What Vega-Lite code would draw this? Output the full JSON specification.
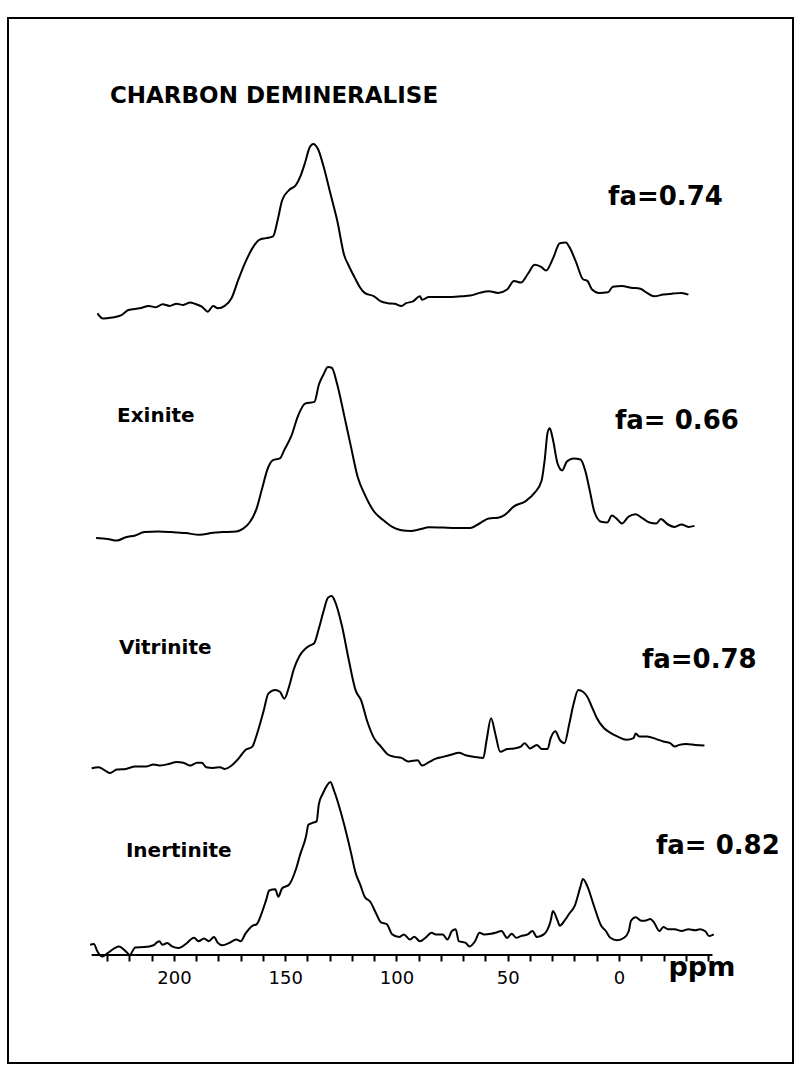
{
  "$schema": "https://vega.github.io/schema/vega-lite/v6.json",
  "width": 785,
  "height": 1045,
  "autosize": {"type": "none"},
  "padding": {"left": 8, "top": 18, "right": 7, "bottom": 8},
  "background": "white",
  "config": {"view": {"stroke": "black", "strokeWidth": 2}, "font": "DejaVu Sans"},
  "datasets": {
    "spectra": [
      {"s":"C","ppm":234.4,"i":6.6},{"s":"C","ppm":231.9,"i":1.4},{"s":"C","ppm":227.8,"i":2.5},{"s":"C","ppm":223.6,"i":4.9},{"s":"C","ppm":220.5,"i":10.0},{"s":"C","ppm":215.4,"i":11.7},{"s":"C","ppm":211.2,"i":14.1},{"s":"C","ppm":208.2,"i":12.7},{"s":"C","ppm":205.1,"i":15.8},{"s":"C","ppm":202.0,"i":14.1},{"s":"C","ppm":198.9,"i":16.2},{"s":"C","ppm":195.8,"i":15.1},{"s":"C","ppm":192.7,"i":17.5},{"s":"C","ppm":190.6,"i":16.2},{"s":"C","ppm":187.5,"i":13.4},{"s":"C","ppm":184.8,"i":8.3},{"s":"C","ppm":182.4,"i":14.1},{"s":"C","ppm":180.3,"i":11.7},{"s":"C","ppm":177.2,"i":14.1},{"s":"C","ppm":174.1,"i":22.0},{"s":"C","ppm":171.0,"i":40.8},{"s":"C","ppm":167.9,"i":57.9},{"s":"C","ppm":164.8,"i":71.6},{"s":"C","ppm":161.7,"i":80.2},{"s":"C","ppm":158.6,"i":81.9},{"s":"C","ppm":155.5,"i":83.6},{"s":"C","ppm":153.5,"i":99.0},{"s":"C","ppm":151.4,"i":119.6},{"s":"C","ppm":148.3,"i":129.9},{"s":"C","ppm":145.2,"i":135.0},{"s":"C","ppm":143.2,"i":143.6},{"s":"C","ppm":141.1,"i":157.3},{"s":"C","ppm":139.0,"i":172.7},{"s":"C","ppm":137.4,"i":176.1},{"s":"C","ppm":135.3,"i":171.0},{"s":"C","ppm":132.8,"i":153.8},{"s":"C","ppm":129.7,"i":126.4},{"s":"C","ppm":126.6,"i":99.0},{"s":"C","ppm":123.5,"i":64.8},{"s":"C","ppm":121.5,"i":54.5},{"s":"C","ppm":118.4,"i":40.8},{"s":"C","ppm":116.3,"i":32.3},{"s":"C","ppm":114.3,"i":27.1},{"s":"C","ppm":110.1,"i":23.7},{"s":"C","ppm":107.0,"i":18.6},{"s":"C","ppm":103.9,"i":16.8},{"s":"C","ppm":100.8,"i":16.2},{"s":"C","ppm":97.8,"i":14.1},{"s":"C","ppm":95.7,"i":16.8},{"s":"C","ppm":92.6,"i":18.6},{"s":"C","ppm":89.5,"i":23.7},{"s":"C","ppm":88.5,"i":20.3},{"s":"C","ppm":85.4,"i":23.0},{"s":"C","ppm":77.1,"i":23.0},{"s":"C","ppm":70.9,"i":23.7},{"s":"C","ppm":66.8,"i":24.4},{"s":"C","ppm":62.7,"i":27.1},{"s":"C","ppm":58.5,"i":28.8},{"s":"C","ppm":54.4,"i":27.1},{"s":"C","ppm":50.3,"i":30.5},{"s":"C","ppm":47.2,"i":39.1},{"s":"C","ppm":44.1,"i":37.4},{"s":"C","ppm":41.0,"i":46.0},{"s":"C","ppm":37.9,"i":55.2},{"s":"C","ppm":34.8,"i":52.8},{"s":"C","ppm":32.8,"i":49.4},{"s":"C","ppm":29.7,"i":61.4},{"s":"C","ppm":26.6,"i":76.8},{"s":"C","ppm":23.9,"i":77.5},{"s":"C","ppm":22.4,"i":73.4},{"s":"C","ppm":19.3,"i":57.9},{"s":"C","ppm":16.2,"i":40.8},{"s":"C","ppm":14.2,"i":39.1},{"s":"C","ppm":12.1,"i":30.5},{"s":"C","ppm":9.0,"i":27.1},{"s":"C","ppm":4.9,"i":27.8},{"s":"C","ppm":2.8,"i":33.3},{"s":"C","ppm":-1.3,"i":34.0},{"s":"C","ppm":-5.4,"i":32.3},{"s":"C","ppm":-9.6,"i":31.2},{"s":"C","ppm":-12.6,"i":27.1},{"s":"C","ppm":-15.7,"i":23.7},{"s":"C","ppm":-19.9,"i":25.4},{"s":"C","ppm":-24.0,"i":26.4},{"s":"C","ppm":-28.1,"i":27.1},{"s":"C","ppm":-31.2,"i":25.4},
      {"s":"E","ppm":235.0,"i":7.1},{"s":"E","ppm":229.8,"i":6.1},{"s":"E","ppm":225.7,"i":4.4},{"s":"E","ppm":221.6,"i":7.8},{"s":"E","ppm":217.4,"i":9.5},{"s":"E","ppm":213.3,"i":12.9},{"s":"E","ppm":207.1,"i":13.6},{"s":"E","ppm":200.9,"i":12.9},{"s":"E","ppm":194.7,"i":11.9},{"s":"E","ppm":188.5,"i":10.2},{"s":"E","ppm":182.4,"i":12.3},{"s":"E","ppm":178.2,"i":12.9},{"s":"E","ppm":172.0,"i":13.6},{"s":"E","ppm":168.9,"i":16.4},{"s":"E","ppm":165.8,"i":23.2},{"s":"E","ppm":162.8,"i":36.9},{"s":"E","ppm":160.7,"i":54.0},{"s":"E","ppm":157.6,"i":78.0},{"s":"E","ppm":155.5,"i":84.9},{"s":"E","ppm":152.4,"i":86.6},{"s":"E","ppm":150.4,"i":95.1},{"s":"E","ppm":147.3,"i":108.8},{"s":"E","ppm":144.2,"i":129.4},{"s":"E","ppm":141.1,"i":141.4},{"s":"E","ppm":136.9,"i":143.1},{"s":"E","ppm":134.9,"i":160.2},{"s":"E","ppm":132.8,"i":170.5},{"s":"E","ppm":130.8,"i":178.0},{"s":"E","ppm":129.1,"i":177.3},{"s":"E","ppm":126.6,"i":160.2},{"s":"E","ppm":123.5,"i":129.4},{"s":"E","ppm":120.5,"i":98.6},{"s":"E","ppm":117.4,"i":67.7},{"s":"E","ppm":114.3,"i":50.6},{"s":"E","ppm":110.1,"i":33.5},{"s":"E","ppm":106.0,"i":24.9},{"s":"E","ppm":101.9,"i":18.1},{"s":"E","ppm":97.8,"i":14.7},{"s":"E","ppm":93.6,"i":14.0},{"s":"E","ppm":89.5,"i":15.7},{"s":"E","ppm":85.4,"i":17.7},{"s":"E","ppm":79.2,"i":17.4},{"s":"E","ppm":73.0,"i":17.1},{"s":"E","ppm":66.8,"i":17.1},{"s":"E","ppm":62.7,"i":21.5},{"s":"E","ppm":58.5,"i":26.6},{"s":"E","ppm":54.4,"i":27.3},{"s":"E","ppm":51.3,"i":30.1},{"s":"E","ppm":47.2,"i":38.6},{"s":"E","ppm":42.0,"i":43.8},{"s":"E","ppm":37.9,"i":52.3},{"s":"E","ppm":34.8,"i":64.3},{"s":"E","ppm":33.4,"i":84.9},{"s":"E","ppm":32.1,"i":112.3},{"s":"E","ppm":31.1,"i":116.7},{"s":"E","ppm":29.7,"i":105.4},{"s":"E","ppm":27.6,"i":81.4},{"s":"E","ppm":25.5,"i":74.6},{"s":"E","ppm":23.5,"i":83.2},{"s":"E","ppm":20.4,"i":86.6},{"s":"E","ppm":17.3,"i":85.5},{"s":"E","ppm":15.2,"i":74.6},{"s":"E","ppm":13.1,"i":54.0},{"s":"E","ppm":11.1,"i":33.5},{"s":"E","ppm":8.0,"i":23.2},{"s":"E","ppm":5.3,"i":22.5},{"s":"E","ppm":3.2,"i":29.4},{"s":"E","ppm":1.2,"i":26.6},{"s":"E","ppm":-1.3,"i":21.5},{"s":"E","ppm":-4.3,"i":28.4},{"s":"E","ppm":-7.5,"i":30.8},{"s":"E","ppm":-10.6,"i":26.6},{"s":"E","ppm":-13.7,"i":22.5},{"s":"E","ppm":-16.8,"i":21.5},{"s":"E","ppm":-18.8,"i":25.9},{"s":"E","ppm":-22.0,"i":20.5},{"s":"E","ppm":-25.0,"i":18.1},{"s":"E","ppm":-28.1,"i":20.5},{"s":"E","ppm":-31.2,"i":18.1},{"s":"E","ppm":-33.9,"i":19.1},
      {"s":"V","ppm":237.0,"i":6.8},{"s":"V","ppm":233.9,"i":7.8},{"s":"V","ppm":230.9,"i":4.4},{"s":"V","ppm":228.8,"i":2.0},{"s":"V","ppm":225.7,"i":5.4},{"s":"V","ppm":221.6,"i":6.1},{"s":"V","ppm":217.4,"i":8.5},{"s":"V","ppm":212.3,"i":8.5},{"s":"V","ppm":209.2,"i":10.6},{"s":"V","ppm":206.1,"i":9.5},{"s":"V","ppm":202.0,"i":11.2},{"s":"V","ppm":198.9,"i":12.9},{"s":"V","ppm":195.8,"i":12.3},{"s":"V","ppm":192.7,"i":9.5},{"s":"V","ppm":189.6,"i":12.3},{"s":"V","ppm":187.5,"i":12.3},{"s":"V","ppm":185.5,"i":7.8},{"s":"V","ppm":182.4,"i":7.1},{"s":"V","ppm":179.3,"i":7.8},{"s":"V","ppm":177.2,"i":6.1},{"s":"V","ppm":174.1,"i":9.5},{"s":"V","ppm":171.0,"i":16.4},{"s":"V","ppm":167.9,"i":24.9},{"s":"V","ppm":164.8,"i":28.4},{"s":"V","ppm":162.8,"i":40.3},{"s":"V","ppm":159.7,"i":64.3},{"s":"V","ppm":157.6,"i":81.4},{"s":"V","ppm":154.5,"i":84.9},{"s":"V","ppm":152.4,"i":83.2},{"s":"V","ppm":150.4,"i":76.3},{"s":"V","ppm":148.3,"i":88.3},{"s":"V","ppm":146.2,"i":105.4},{"s":"V","ppm":143.6,"i":119.1},{"s":"V","ppm":141.1,"i":126.0},{"s":"V","ppm":139.0,"i":129.4},{"s":"V","ppm":137.0,"i":131.8},{"s":"V","ppm":134.9,"i":146.5},{"s":"V","ppm":132.8,"i":163.6},{"s":"V","ppm":130.8,"i":177.3},{"s":"V","ppm":129.1,"i":179.0},{"s":"V","ppm":127.7,"i":173.9},{"s":"V","ppm":124.6,"i":149.9},{"s":"V","ppm":121.5,"i":115.7},{"s":"V","ppm":118.4,"i":84.9},{"s":"V","ppm":115.9,"i":74.6},{"s":"V","ppm":113.2,"i":54.0},{"s":"V","ppm":110.1,"i":36.9},{"s":"V","ppm":107.0,"i":28.4},{"s":"V","ppm":103.9,"i":20.5},{"s":"V","ppm":100.8,"i":18.1},{"s":"V","ppm":97.8,"i":17.1},{"s":"V","ppm":94.7,"i":13.6},{"s":"V","ppm":90.5,"i":14.7},{"s":"V","ppm":88.5,"i":9.5},{"s":"V","ppm":85.4,"i":12.9},{"s":"V","ppm":82.3,"i":16.4},{"s":"V","ppm":79.2,"i":18.1},{"s":"V","ppm":75.1,"i":20.5},{"s":"V","ppm":72.0,"i":22.2},{"s":"V","ppm":68.9,"i":19.8},{"s":"V","ppm":64.7,"i":18.1},{"s":"V","ppm":61.0,"i":17.1},{"s":"V","ppm":59.6,"i":33.5},{"s":"V","ppm":57.5,"i":56.8},{"s":"V","ppm":55.5,"i":40.3},{"s":"V","ppm":53.4,"i":23.2},{"s":"V","ppm":50.3,"i":25.9},{"s":"V","ppm":47.2,"i":26.6},{"s":"V","ppm":44.1,"i":28.4},{"s":"V","ppm":42.4,"i":31.8},{"s":"V","ppm":40.0,"i":26.6},{"s":"V","ppm":36.9,"i":30.1},{"s":"V","ppm":34.8,"i":26.0},{"s":"V","ppm":32.1,"i":26.0},{"s":"V","ppm":30.7,"i":36.9},{"s":"V","ppm":28.6,"i":43.8},{"s":"V","ppm":26.6,"i":35.2},{"s":"V","ppm":24.5,"i":31.8},{"s":"V","ppm":22.4,"i":50.6},{"s":"V","ppm":20.4,"i":71.2},{"s":"V","ppm":18.3,"i":84.9},{"s":"V","ppm":16.2,"i":83.2},{"s":"V","ppm":14.2,"i":78.0},{"s":"V","ppm":12.1,"i":67.7},{"s":"V","ppm":10.1,"i":57.5},{"s":"V","ppm":6.9,"i":47.2},{"s":"V","ppm":3.8,"i":42.1},{"s":"V","ppm":0.8,"i":38.6},{"s":"V","ppm":-3.4,"i":35.2},{"s":"V","ppm":-6.5,"i":36.9},{"s":"V","ppm":-7.5,"i":41.4},{"s":"V","ppm":-9.1,"i":38.6},{"s":"V","ppm":-12.6,"i":38.6},{"s":"V","ppm":-16.8,"i":35.9},{"s":"V","ppm":-19.9,"i":33.5},{"s":"V","ppm":-23.0,"i":31.8},{"s":"V","ppm":-25.0,"i":28.4},{"s":"V","ppm":-27.1,"i":30.1},{"s":"V","ppm":-30.2,"i":31.1},{"s":"V","ppm":-34.3,"i":30.1},{"s":"V","ppm":-38.4,"i":29.4},
      {"s":"I","ppm":237.7,"i":10.3},{"s":"I","ppm":236.0,"i":11.0},{"s":"I","ppm":234.4,"i":3.5},{"s":"I","ppm":232.3,"i":-1.6},{"s":"I","ppm":229.8,"i":1.8},{"s":"I","ppm":226.7,"i":6.9},{"s":"I","ppm":224.7,"i":8.6},{"s":"I","ppm":221.6,"i":3.5},{"s":"I","ppm":219.9,"i":0.1},{"s":"I","ppm":217.4,"i":7.6},{"s":"I","ppm":213.3,"i":7.9},{"s":"I","ppm":209.2,"i":9.7},{"s":"I","ppm":206.7,"i":13.8},{"s":"I","ppm":205.1,"i":10.3},{"s":"I","ppm":203.0,"i":12.1},{"s":"I","ppm":200.9,"i":8.6},{"s":"I","ppm":197.8,"i":6.9},{"s":"I","ppm":194.7,"i":11.0},{"s":"I","ppm":191.0,"i":17.2},{"s":"I","ppm":189.0,"i":13.8},{"s":"I","ppm":186.5,"i":16.5},{"s":"I","ppm":184.4,"i":13.8},{"s":"I","ppm":182.0,"i":17.9},{"s":"I","ppm":180.3,"i":12.1},{"s":"I","ppm":178.2,"i":9.7},{"s":"I","ppm":175.1,"i":12.1},{"s":"I","ppm":172.0,"i":15.5},{"s":"I","ppm":170.0,"i":13.8},{"s":"I","ppm":167.9,"i":21.3},{"s":"I","ppm":164.8,"i":29.2},{"s":"I","ppm":162.8,"i":30.9},{"s":"I","ppm":160.7,"i":41.2},{"s":"I","ppm":158.6,"i":54.9},{"s":"I","ppm":157.2,"i":64.5},{"s":"I","ppm":154.5,"i":65.8},{"s":"I","ppm":153.1,"i":58.3},{"s":"I","ppm":151.4,"i":66.8},{"s":"I","ppm":148.3,"i":70.3},{"s":"I","ppm":145.2,"i":85.7},{"s":"I","ppm":143.2,"i":101.1},{"s":"I","ppm":140.7,"i":118.2},{"s":"I","ppm":139.6,"i":130.2},{"s":"I","ppm":138.0,"i":131.9},{"s":"I","ppm":135.9,"i":133.6},{"s":"I","ppm":134.9,"i":150.8},{"s":"I","ppm":133.2,"i":161.0},{"s":"I","ppm":131.2,"i":169.6},{"s":"I","ppm":129.7,"i":173.0},{"s":"I","ppm":128.1,"i":164.5},{"s":"I","ppm":125.6,"i":147.3},{"s":"I","ppm":123.5,"i":130.2},{"s":"I","ppm":120.5,"i":102.8},{"s":"I","ppm":118.4,"i":82.3},{"s":"I","ppm":116.3,"i":70.3},{"s":"I","ppm":114.3,"i":58.3},{"s":"I","ppm":111.8,"i":53.2},{"s":"I","ppm":109.1,"i":41.2},{"s":"I","ppm":107.0,"i":32.6},{"s":"I","ppm":104.4,"i":30.9},{"s":"I","ppm":101.9,"i":20.6},{"s":"I","ppm":98.8,"i":17.9},{"s":"I","ppm":96.7,"i":20.6},{"s":"I","ppm":94.0,"i":15.5},{"s":"I","ppm":92.0,"i":18.2},{"s":"I","ppm":89.5,"i":13.8},{"s":"I","ppm":87.0,"i":17.2},{"s":"I","ppm":84.3,"i":22.3},{"s":"I","ppm":82.3,"i":20.6},{"s":"I","ppm":79.2,"i":20.6},{"s":"I","ppm":77.1,"i":15.5},{"s":"I","ppm":75.1,"i":24.0},{"s":"I","ppm":73.4,"i":25.8},{"s":"I","ppm":72.0,"i":13.8},{"s":"I","ppm":68.9,"i":12.1},{"s":"I","ppm":67.2,"i":8.6},{"s":"I","ppm":64.7,"i":13.8},{"s":"I","ppm":62.7,"i":22.3},{"s":"I","ppm":60.6,"i":20.6},{"s":"I","ppm":57.5,"i":21.3},{"s":"I","ppm":55.5,"i":22.3},{"s":"I","ppm":52.8,"i":24.0},{"s":"I","ppm":50.3,"i":17.2},{"s":"I","ppm":48.2,"i":21.3},{"s":"I","ppm":46.2,"i":17.2},{"s":"I","ppm":44.1,"i":18.9},{"s":"I","ppm":41.0,"i":20.6},{"s":"I","ppm":38.9,"i":24.0},{"s":"I","ppm":36.9,"i":17.9},{"s":"I","ppm":33.8,"i":20.6},{"s":"I","ppm":30.7,"i":34.3},{"s":"I","ppm":29.7,"i":43.9},{"s":"I","ppm":27.6,"i":34.3},{"s":"I","ppm":26.6,"i":29.2},{"s":"I","ppm":24.5,"i":34.3},{"s":"I","ppm":22.4,"i":41.2},{"s":"I","ppm":19.8,"i":49.7},{"s":"I","ppm":17.3,"i":68.6},{"s":"I","ppm":16.2,"i":76.1},{"s":"I","ppm":14.2,"i":68.6},{"s":"I","ppm":11.1,"i":48.0},{"s":"I","ppm":8.0,"i":29.2},{"s":"I","ppm":5.9,"i":24.0},{"s":"I","ppm":3.9,"i":17.2},{"s":"I","ppm":0.8,"i":14.8},{"s":"I","ppm":-2.3,"i":17.2},{"s":"I","ppm":-4.4,"i":24.0},{"s":"I","ppm":-5.4,"i":34.3},{"s":"I","ppm":-7.5,"i":37.7},{"s":"I","ppm":-10.0,"i":34.3},{"s":"I","ppm":-11.6,"i":34.3},{"s":"I","ppm":-14.1,"i":36.0},{"s":"I","ppm":-15.7,"i":32.6},{"s":"I","ppm":-18.2,"i":24.0},{"s":"I","ppm":-19.9,"i":28.1},{"s":"I","ppm":-22.0,"i":25.8},{"s":"I","ppm":-25.0,"i":25.8},{"s":"I","ppm":-28.1,"i":24.0},{"s":"I","ppm":-31.2,"i":25.8},{"s":"I","ppm":-34.3,"i":24.8},{"s":"I","ppm":-36.4,"i":25.8},{"s":"I","ppm":-38.9,"i":23.4},{"s":"I","ppm":-40.5,"i":18.9},{"s":"I","ppm":-42.6,"i":20.6}
    ]
  },
  "encoding": {
    "x": {
      "field": "ppm",
      "type": "quantitative",
      "title": "ppm",
      "scale": {"domain": [-78.2, 274.6], "reverse": true, "nice": false, "zero": false},
      "axis": {
        "values": [-40,-30,-20,-10,0,10,20,30,40,50,60,70,80,90,100,110,120,130,140,150,160,170,180,190,200,210,220,230],
        "labelExpr": "datum.value % 50 === 0 ? datum.label : ''",
        "domain": false,
        "grid": false,
        "offset": -108,
        "ticks": true,
        "tickSize": 6,
        "tickWidth": 2,
        "tickColor": "black",
        "tickOpacity": 1,
        "labelFont": "DejaVu Sans",
        "labelFontSize": 18,
        "labelColor": "black",
        "labelPadding": 8,
        "labelFlush": false,
        "labelOverlap": false,
        "titleFont": "DejaVu Sans",
        "titleFontSize": 27,
        "titleFontWeight": "bold",
        "titleColor": "black",
        "titleX": 660,
        "titleY": 20,
        "titleAlign": "left",
        "titleBaseline": "alphabetic",
        "titleAngle": 0
      }
    }
  },
  "layer": [
    {
      "layer": [
        {
          "data": {"name": "spectra"},
          "transform": [{"filter": "datum.s === 'C'"}],
          "mark": {"type": "line", "color": "black", "strokeWidth": 2, "interpolate": "monotone"},
          "encoding": {"y": {"field": "i", "type": "quantitative", "scale": {"domain": [-743, 302], "nice": false, "zero": false}, "axis": null}}
        },
        {
          "data": {"values": [{"label": "CHARBON DEMINERALISE", "ppm": 228.8}]},
          "mark": {"type": "text", "align": "left", "baseline": "alphabetic", "fontSize": 23, "fontWeight": "bold", "font": "DejaVu Sans", "color": "black"},
          "encoding": {"y": {"datum": 217, "type": "quantitative", "axis": null}, "text": {"field": "label"}}
        },
        {
          "data": {"values": [{"label": "fa=0.74", "ppm": 4.9}]},
          "mark": {"type": "text", "align": "left", "baseline": "alphabetic", "fontSize": 26, "fontWeight": "bold", "font": "DejaVu Sans", "color": "black"},
          "encoding": {"y": {"datum": 115, "type": "quantitative", "axis": null}, "text": {"field": "label"}}
        }
      ]
    },
    {
      "layer": [
        {
          "data": {"name": "spectra"},
          "transform": [{"filter": "datum.s === 'E'"}],
          "mark": {"type": "line", "color": "black", "strokeWidth": 2, "interpolate": "monotone"},
          "encoding": {"y": {"field": "i", "type": "quantitative", "scale": {"domain": [-518, 527], "nice": false, "zero": false}, "axis": null}}
        },
        {
          "data": {"values": [{"label": "Exinite", "ppm": 225.6}]},
          "mark": {"type": "text", "align": "left", "baseline": "alphabetic", "fontSize": 20, "fontWeight": "bold", "font": "DejaVu Sans", "color": "black"},
          "encoding": {"y": {"datum": 123, "type": "quantitative", "axis": null}, "text": {"field": "label"}}
        },
        {
          "data": {"values": [{"label": "fa= 0.66", "ppm": 1.8}]},
          "mark": {"type": "text", "align": "left", "baseline": "alphabetic", "fontSize": 26, "fontWeight": "bold", "font": "DejaVu Sans", "color": "black"},
          "encoding": {"y": {"datum": 116, "type": "quantitative", "axis": null}, "text": {"field": "label"}}
        }
      ]
    },
    {
      "layer": [
        {
          "data": {"name": "spectra"},
          "transform": [{"filter": "datum.s === 'V'"}],
          "mark": {"type": "line", "color": "black", "strokeWidth": 2, "interpolate": "monotone"},
          "encoding": {"y": {"field": "i", "type": "quantitative", "scale": {"domain": [-288, 757], "nice": false, "zero": false}, "axis": null}}
        },
        {
          "data": {"values": [{"label": "Vitrinite", "ppm": 224.7}]},
          "mark": {"type": "text", "align": "left", "baseline": "alphabetic", "fontSize": 20, "fontWeight": "bold", "font": "DejaVu Sans", "color": "black"},
          "encoding": {"y": {"datum": 121, "type": "quantitative", "axis": null}, "text": {"field": "label"}}
        },
        {
          "data": {"values": [{"label": "fa=0.78", "ppm": -10.3}]},
          "mark": {"type": "text", "align": "left", "baseline": "alphabetic", "fontSize": 26, "fontWeight": "bold", "font": "DejaVu Sans", "color": "black"},
          "encoding": {"y": {"datum": 107, "type": "quantitative", "axis": null}, "text": {"field": "label"}}
        }
      ]
    },
    {
      "layer": [
        {
          "data": {"name": "spectra"},
          "transform": [{"filter": "datum.s === 'I'"}],
          "mark": {"type": "line", "color": "black", "strokeWidth": 2, "interpolate": "monotone"},
          "encoding": {"y": {"field": "i", "type": "quantitative", "scale": {"domain": [-108, 937], "nice": false, "zero": false}, "axis": null}}
        },
        {
          "data": {"values": [{"ppm": 237, "to": -42}]},
          "mark": {"type": "rule", "color": "black", "strokeWidth": 2},
          "encoding": {"x2": {"field": "to"}, "y": {"datum": 0, "type": "quantitative", "axis": null}}
        },
        {
          "data": {"values": [{"label": "Inertinite", "ppm": 221.6}]},
          "mark": {"type": "text", "align": "left", "baseline": "alphabetic", "fontSize": 20, "fontWeight": "bold", "font": "DejaVu Sans", "color": "black"},
          "encoding": {"y": {"datum": 98, "type": "quantitative", "axis": null}, "text": {"field": "label"}}
        },
        {
          "data": {"values": [{"label": "fa= 0.82", "ppm": -16.6}]},
          "mark": {"type": "text", "align": "left", "baseline": "alphabetic", "fontSize": 26, "fontWeight": "bold", "font": "DejaVu Sans", "color": "black"},
          "encoding": {"y": {"datum": 101, "type": "quantitative", "axis": null}, "text": {"field": "label"}}
        }
      ]
    }
  ],
  "resolve": {"scale": {"y": "independent"}}
}
